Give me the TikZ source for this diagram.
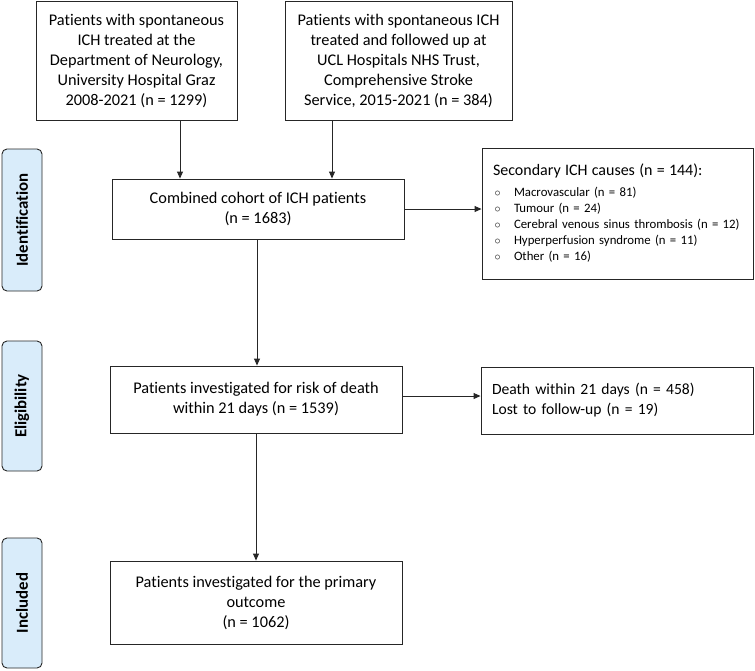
\documentclass[tikz,border=0pt]{standalone}
\usepackage{fontspec}
\setmainfont{Carlito}[Ligatures=NoCommon]
\usetikzlibrary{arrows.meta, positioning, calc}
\definecolor{cline}{HTML}{262626}
\definecolor{clabel}{HTML}{D9ECFA}
\newcommand{\bul}{\makebox[21pt][l]{\hspace{1.5pt}\raisebox{0.5pt}{$\circ$}}}
\tikzset{
  every picture/.style={x=1pt, y=-1pt, line width=0.9pt},
  box/.style={draw=cline, rectangle, align=center, inner sep=0pt, font=\fontsize{16.3}{20}\selectfont},
  listbox/.style={box, align=left, inner xsep=11pt, font=\fontsize{15.6}{20}\selectfont},
  sidebar/.style={draw=cline, fill=clabel, rounded corners=5pt, minimum height=40pt, rotate=90, inner sep=0pt, font=\fontsize{16.8}{18}\selectfont\bfseries},
  arrow/.style={-{Triangle[length=7pt, width=6pt]}, draw=cline, line width=0.9pt},
}
\begin{document}
\begin{tikzpicture}
  \useasboundingbox (0,0) rectangle (755,670);
  % stage labels
  \node[sidebar, minimum width=142pt] (ident) at (22,220) {Identification};
  \node[sidebar, minimum width=130pt] (elig) at (22,406) {Eligibility};
  \node[sidebar, minimum width=130pt] (incl) at (22,603) {Included};
  % main flow
  \node[box, minimum width=201pt, minimum height=119pt] (graz) at (136.5,60.5) {Patients with spontaneous\\ICH treated at the\\Department of Neurology,\\University Hospital Graz\\2008-2021 (n = 1299)};
  \node[box, minimum width=227pt, minimum height=119pt] (ucl) at (398.5,60.5) {Patients with spontaneous ICH\\treated and followed up at\\UCL Hospitals NHS Trust,\\Comprehensive Stroke\\Service, 2015-2021 (n = 384)};
  \node[box, minimum width=292pt, minimum height=60pt] (comb) at (258,209) {Combined cohort of ICH patients\\(n = 1683)};
  \node[box, minimum width=292pt, minimum height=67pt] (risk) at (256,399.5) {Patients investigated for risk of death\\within 21 days (n = 1539)};
  \node[box, minimum width=292pt, minimum height=83pt] (prim) at (256,602.5) {Patients investigated for the primary\\outcome\\(n = 1062)};
  % exclusions
  \node[listbox, minimum width=271pt, minimum height=131pt, text width=249pt, font=\fontsize{12.8}{16}\selectfont] (sec) at (617.5,213.5) {{\fontsize{16}{17}\selectfont Secondary ICH causes (n = 144):}\\[5pt]\bul Macrovascular (n = 81)\\\bul Tumour (n = 24)\\\bul Cerebral venous sinus thrombosis (n = 12)\\\bul Hyperperfusion syndrome (n = 11)\\\bul Other (n = 16)};
  \node[listbox, minimum width=272pt, minimum height=67pt, text width=250pt] (death) at (617,400.5) {Death within 21 days (n = 458)\\Lost to follow-up (n = 19)};
  \draw[arrow] ([xshift=43.5pt]graz.south) -- ([xshift=43.5pt]graz.south |- comb.north);
  \draw[arrow] ([xshift=-66.5pt]ucl.south) -- ([xshift=-66.5pt]ucl.south |- comb.north);
  \draw[arrow] (comb.east) -- (comb.east -| sec.west);
  \draw[arrow] ([xshift=-1pt]comb.south) -- ([xshift=-1pt]comb.south |- risk.north);
  \draw[arrow] ([yshift=3.5pt]risk.east) -- ([yshift=3.5pt]risk.east -| death.west);
  \draw[arrow] (risk.south) -- (risk.south |- prim.north);
\end{tikzpicture}
\end{document}
